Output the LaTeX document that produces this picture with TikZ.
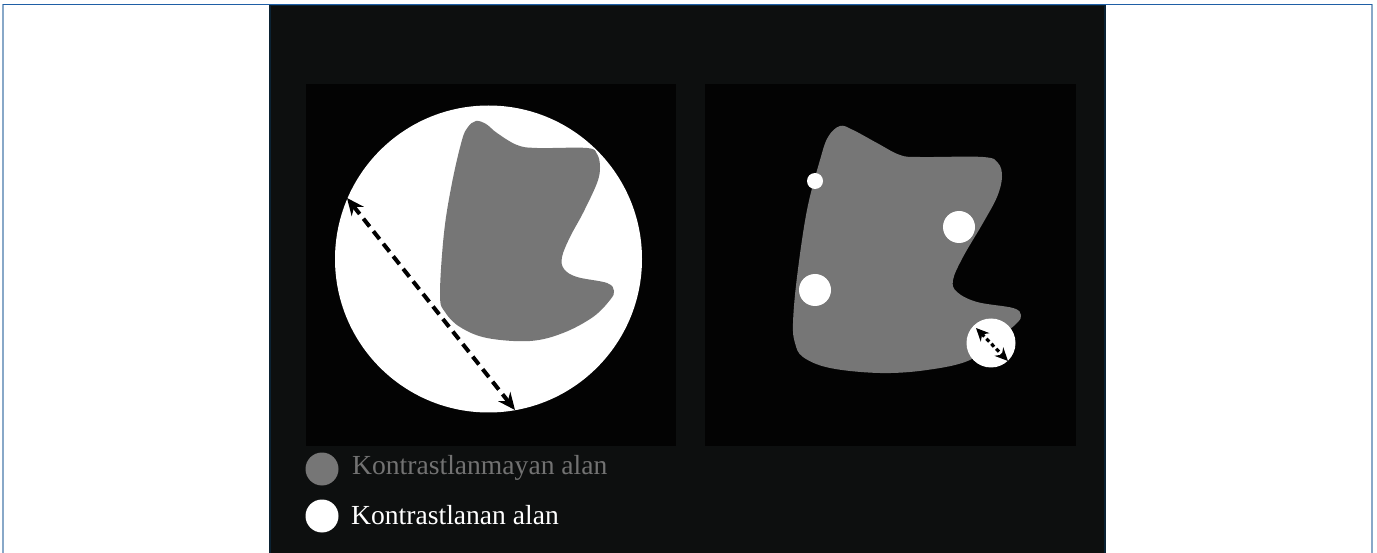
\documentclass[tikz,border=0pt]{standalone}
\usepackage{fontspec}
\setmainfont{Liberation Serif}
\usetikzlibrary{arrows.meta}
\definecolor{panelbg}{HTML}{0D0F0F}
\definecolor{sqbg}{HTML}{030303}
\definecolor{blobgray}{HTML}{767676}
\definecolor{legendgray}{HTML}{727272}
\definecolor{topblue}{HTML}{1F5FA6}
\definecolor{sideblue}{HTML}{88A8C8}
\definecolor{paneledge}{HTML}{0B2233}
\tikzset{
  blob/.style={fill=blobgray, draw=none},
  hole/.style={fill=white, draw=none},
  measure/.style={line width=4pt, dash pattern=on 10pt off 6pt, {Stealth[length=17pt,width=15pt]}-{Stealth[length=17pt,width=15pt]}},
  smallmeasure/.style={line width=3.2pt, dash pattern=on 4pt off 3pt, {Stealth[length=13pt,width=12pt]}-{Stealth[length=13pt,width=12pt]}},
  legendtext/.style={anchor=base west, font=\fontsize{27.6}{32}\selectfont, inner sep=0pt},
}
\begin{document}
\begin{tikzpicture}[x=1pt,y=-1pt]
\useasboundingbox (0,0) rectangle (1377,553);
\fill[white] (0,0) rectangle (1377,553);
% outer frame
\draw[sideblue, line width=2pt] (3,4.5) -- (3,553);
\draw[sideblue, line width=2pt] (1372,4.5) -- (1372,553);
% panel
\fill[panelbg] (270,5) rectangle (1105,553);
\draw[paneledge, line width=1.5pt] (270,553) -- (270,5.5) -- (1105,5.5) -- (1105,553);
\draw[topblue, line width=1.8pt] (3,4.5) -- (1372,4.5);
% squares
\fill[sqbg] (306,84) rectangle (676,446);
\fill[sqbg] (705,84) rectangle (1076,446);
% left: big circle and blob
\node[hole, circle, minimum size=307pt, inner sep=0pt] (bigc) at (488.5,259) {};
\fill[blob] plot[smooth cycle, tension=0.6] coordinates {
 (462,140) (468,127) (476,121) (486,124) (497,133) (517,145) (537,148) (587,148)
 (597,154) (600,167) (597,183) (583,213) (570,237) (562,257) (564,269) (577,277)
 (607,283) (614,291) (610,300) (593,317) (563,333) (530,341) (487,338) (460,327)
 (445,312) (440,295) (444,233) (452,183)};
\coordinate (a1) at (347,198);
\coordinate (a2) at (515,410);
\draw[measure] (a1) -- (a2);
% right: blob with holes
\fill[blob] plot[smooth cycle, tension=0.6] coordinates {
 (820,160) (828,137) (840,126) (853,130) (877,143) (900,155) (920,157) (983,157)
 (998,163) (1002,177) (997,197) (983,223) (963,257) (953,280) (957,292) (977,302)
 (1013,308) (1021,315) (1017,323) (1000,337) (970,360) (927,370) (880,373) (830,368)
 (803,357) (795,343) (793,323) (797,277) (807,210)};
\node[hole, circle, minimum size=16pt, inner sep=0pt] (h1) at (815,181) {};
\node[hole, circle, minimum size=32pt, inner sep=0pt] (h2) at (959,227) {};
\node[hole, circle, minimum size=32pt, inner sep=0pt] (h3) at (815,290) {};
\node[hole, circle, minimum size=49pt, inner sep=0pt] (h4) at (991,343) {};
\coordinate (b1) at (976,328);
\coordinate (b2) at (1008,361);
\draw[smallmeasure] (b1) -- (b2);
% legend
\node[fill=blobgray, circle, minimum size=33pt, inner sep=0pt] (lg1) at (322,469) {};
\node[fill=white, circle, minimum size=33pt, inner sep=0pt] (lg2) at (322,516) {};
\node[legendtext, text=legendgray] (t1) at (352,474) {Kontrastlanmayan alan};
\node[legendtext, text=white] (t2) at (351,524) {Kontrastlanan alan};
\end{tikzpicture}
\end{document}
